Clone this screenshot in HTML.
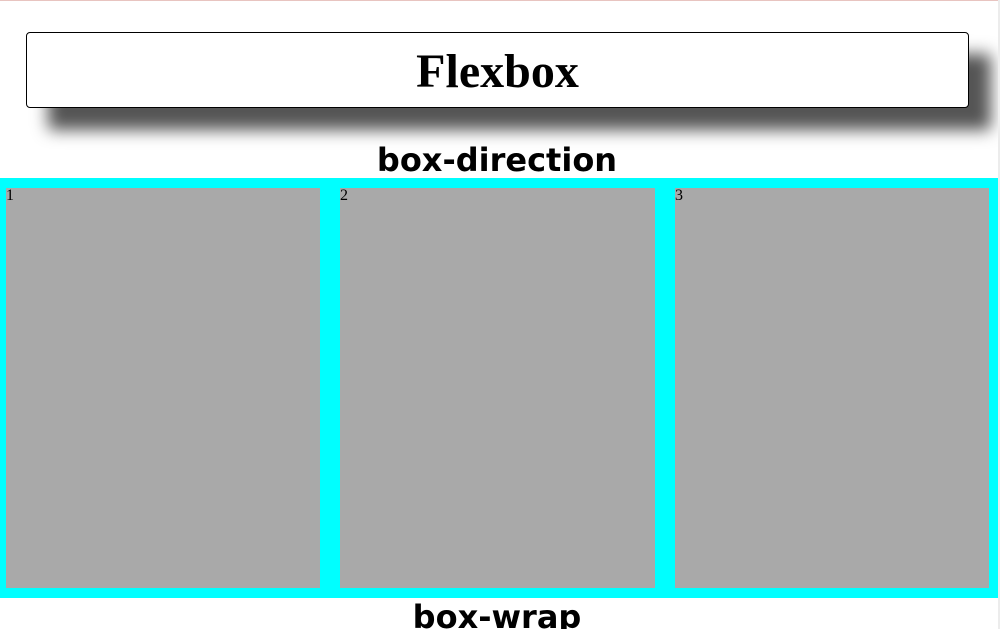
<!DOCTYPE html>
<html><head><meta charset="utf-8"><style>
html,body{margin:0;padding:0;background:#fff;width:1000px;height:629px;overflow:hidden;position:relative}
.topline{position:absolute;left:0;top:0;width:1000px;height:1px;background:#e8c4c0}
.rightline{position:absolute;left:998px;top:0;width:2px;height:629px;background:#ececec}
.header{position:absolute;left:26px;top:32px;width:941px;height:74px;border:1px solid #000;border-radius:4px;background:#fff;box-shadow:22px 22px 16px #555;}
.header h1{margin:0;font:bold 48px "Liberation Serif",serif;text-align:center;line-height:76px;position:absolute;top:1px;left:0;right:0}
.h2{position:absolute;left:0;width:994px;text-align:center;font:bold 32px "DejaVu Sans",sans-serif;margin:0}
.flex{position:absolute;left:0;top:178px;width:999px;height:420px;background:#0ff}
.item{position:absolute;top:10px;height:400px;background:#a9a9a9;font:16px "Liberation Serif",serif;color:#000;line-height:16px}
</style></head><body>
<div class="topline"></div>
<div class="header"><h1>Flexbox</h1></div>
<div class="h2" style="top:141px">box-direction</div>
<div class="flex">
<div class="item" style="left:6px;width:314px">1</div>
<div class="item" style="left:340px;width:315px">2</div>
<div class="item" style="left:675px;width:314px">3</div>
</div>
<div class="h2" style="top:598px">box-wrap</div>
<div class="rightline"></div>
</body></html>
